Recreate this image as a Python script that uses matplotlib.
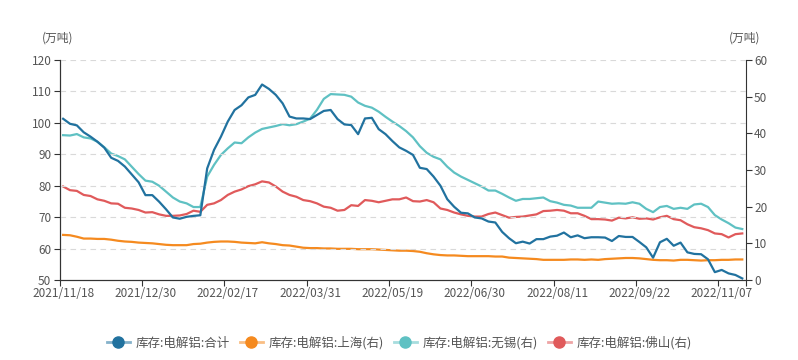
import matplotlib
matplotlib.use("Agg")
import matplotlib.pyplot as plt
from matplotlib.lines import Line2D
import numpy as np

plt.rcParams['font.family'] = ['Noto Sans CJK SC', 'DejaVu Sans']

# 日期标签（每12个数据点一个）
tick_labels = ["2021/11/18", "2021/12/30", "2022/02/17", "2022/03/31", "2022/05/19",
               "2022/06/30", "2022/08/11", "2022/09/22", "2022/11/07"]

# 库存:电解铝:合计 (左轴)
total = [101.3, 99.7, 99.2, 97.0, 95.6, 94.0, 92.1, 88.9, 87.9, 86.1,
         83.6, 81.1, 77.0, 77.0, 74.9, 72.5, 69.9, 69.5, 70.1, 70.4,
         70.6, 85.5, 91.4, 95.6, 100.4, 104.1, 105.6, 108.1, 108.9, 112.2,
         110.8, 108.9, 106.2, 102.0, 101.4, 101.4, 101.2, 102.5, 103.8, 104.1,
         101.2, 99.5, 99.3, 96.4, 101.4, 101.6, 98.0, 96.4, 94.2, 92.2,
         91.1, 89.8, 85.7, 85.3, 82.9, 80.0, 75.7, 73.3, 71.4, 71.2,
         69.9, 69.6, 68.6, 68.3, 65.3, 63.3, 61.7, 62.2, 61.6, 63.0,
         63.0, 63.8, 64.1, 65.1, 63.6, 64.2, 63.3, 63.6, 63.6, 63.5,
         62.4, 64.0, 63.7, 63.7, 62.1, 60.4, 57.1, 62.0, 63.1, 60.9,
         61.9, 58.8, 58.3, 58.2, 56.6, 52.5, 53.2, 52.1, 51.6, 50.5]

# 库存:电解铝:上海 (右轴)
shanghai = [12.3, 12.2, 11.8, 11.3, 11.3, 11.2, 11.2, 11.0, 10.7, 10.5,
            10.4, 10.2, 10.1, 10.0, 9.8, 9.6, 9.5, 9.5, 9.5, 9.8,
            9.9, 10.2, 10.4, 10.5, 10.5, 10.4, 10.2, 10.1, 10.0, 10.3,
            10.0, 9.8, 9.5, 9.4, 9.1, 8.8, 8.7, 8.7, 8.6, 8.6,
            8.5, 8.5, 8.5, 8.4, 8.4, 8.4, 8.3, 8.2, 8.1, 8.0,
            8.0, 7.9, 7.7, 7.3, 7.0, 6.8, 6.7, 6.7, 6.6, 6.5,
            6.5, 6.5, 6.5, 6.4, 6.4, 6.1, 6.0, 5.9, 5.8, 5.7,
            5.5, 5.5, 5.5, 5.5, 5.6, 5.6, 5.5, 5.6, 5.5, 5.7,
            5.8, 5.9, 6.0, 6.0, 5.9, 5.7, 5.5, 5.4, 5.4, 5.3,
            5.5, 5.5, 5.4, 5.3, 5.4, 5.4, 5.5, 5.5, 5.6, 5.6]

# 库存:电解铝:无锡 (右轴)
wuxi = [39.5, 39.4, 39.8, 38.9, 38.6, 37.7, 36.2, 34.5, 33.8, 32.9,
        30.9, 28.9, 27.1, 26.8, 25.7, 24.1, 22.5, 21.4, 20.9, 19.9,
        19.9, 28.2, 31.4, 34.1, 35.9, 37.5, 37.3, 38.9, 40.2, 41.2,
        41.6, 42.0, 42.5, 42.2, 42.5, 43.2, 44.0, 46.4, 49.4, 50.7,
        50.6, 50.5, 50.0, 48.4, 47.5, 47.0, 45.9, 44.5, 43.2, 42.0,
        40.6, 38.9, 36.5, 34.7, 33.6, 32.9, 30.9, 29.3, 28.2, 27.3,
        26.4, 25.5, 24.4, 24.4, 23.5, 22.5, 21.6, 22.1, 22.1, 22.3,
        22.5, 21.5, 21.1, 20.5, 20.3, 19.7, 19.7, 19.7, 21.4, 21.1,
        20.8, 20.9, 20.8, 21.2, 20.8, 19.4, 18.5, 19.9, 20.2, 19.4,
        19.7, 19.4, 20.6, 20.8, 19.9, 17.7, 16.5, 15.5, 14.3, 13.9]

# 库存:电解铝:佛山 (右轴)
foshan = [25.5, 24.5, 24.3, 23.2, 22.9, 22.0, 21.6, 20.9, 20.8, 19.7,
          19.5, 19.1, 18.4, 18.5, 17.9, 17.5, 17.5, 17.6, 18.0, 18.9,
          18.6, 20.5, 20.9, 21.8, 23.2, 24.1, 24.7, 25.6, 26.1, 26.9,
          26.6, 25.5, 24.1, 23.2, 22.7, 21.8, 21.5, 20.9, 20.0, 19.7,
          18.9, 19.1, 20.4, 20.2, 21.8, 21.6, 21.2, 21.6, 22.0, 22.0,
          22.5, 21.5, 21.4, 21.8, 21.2, 19.5, 19.1, 18.4, 17.9, 17.5,
          17.3, 17.3, 18.0, 18.4, 17.7, 17.0, 17.2, 17.3, 17.6, 17.9,
          18.8, 18.9, 19.1, 18.9, 18.2, 18.2, 17.5, 16.6, 16.6, 16.5,
          16.2, 17.0, 16.8, 17.1, 16.7, 16.8, 16.5, 17.1, 17.5, 16.6,
          16.3, 15.2, 14.4, 14.1, 13.6, 12.7, 12.5, 11.6, 12.5, 12.7]

names = ["库存:电解铝:合计", "库存:电解铝:上海(右)", "库存:电解铝:无锡(右)", "库存:电解铝:佛山(右)"]
colors = ["#21729f", "#f58a1f", "#5fc1c3", "#e05a5b"]

x = np.arange(len(total))
n = len(total)

fig = plt.figure(figsize=(7.98, 3.6), dpi=100)
ax = fig.add_axes([59.7 / 798, 80 / 360, 686 / 798, 220 / 360])
ax2 = ax.twinx()

ax.plot(x, total, color=colors[0], lw=1.6, zorder=5)
ax2.plot(x, shanghai, color=colors[1], lw=1.6)
ax2.plot(x, wuxi, color=colors[2], lw=1.6)
ax2.plot(x, foshan, color=colors[3], lw=1.6)
ax.set_zorder(ax2.get_zorder() + 1)
ax.patch.set_visible(False)

ax.set_xlim(-0.5, n - 0.5)
ax.set_ylim(50, 120)
ax2.set_ylim(0, 60)
ax.set_yticks(np.arange(50, 121, 10))
ax2.set_yticks(np.arange(0, 61, 10))

# x ticks at band edges, labels at band centres
edges = list(np.arange(0, n, 12) - 0.5) + [n - 0.5]
ax.set_xticks(edges)
ax.set_xticklabels([])
ax.set_xticks(np.arange(0, n, 12), minor=True)
ax.set_xticklabels(tick_labels, minor=True)
ax.tick_params(axis='x', which='major', length=4, color='#333333')
ax.tick_params(axis='x', which='minor', length=0, pad=5, labelsize=8.5, labelcolor='#555555')

ax.tick_params(axis='y', length=4, color='#333333', labelsize=8.5, labelcolor='#555555', pad=2)
ax2.tick_params(axis='y', length=4, color='#333333', labelsize=8.5, labelcolor='#555555', pad=2)

for a in (ax, ax2):
    a.spines['top'].set_visible(False)
    for s in ('left', 'right', 'bottom'):
        a.spines[s].set_color('#333333')
ax.spines['right'].set_visible(False)

for v in range(60, 121, 10):
    ax.axhline(v, color='#d9d9d9', lw=0.8, ls=(0, (5, 4)), zorder=0)

fig.text(58 / 798, 1 - 38 / 360, "(万吨)", ha='center', va='center', fontsize=8.5, color='#555555')
fig.text(745 / 798, 1 - 38 / 360, "(万吨)", ha='center', va='center', fontsize=8.5, color='#555555')

handles = []
for c in colors:
    rgba = matplotlib.colors.to_rgba(c, 0.55)
    handles.append(Line2D([0], [0], color=rgba, lw=2, marker='o', markersize=8,
                          markerfacecolor=c, markeredgecolor=c))
fig.legend(handles, names, loc='center', bbox_to_anchor=(0.5, 1 - 343 / 360), ncol=4,
           frameon=False, fontsize=9, handlelength=1.9, handletextpad=0.4, columnspacing=0.8,
           labelcolor='#555555')

fig.savefig("out.png", dpi=100)
